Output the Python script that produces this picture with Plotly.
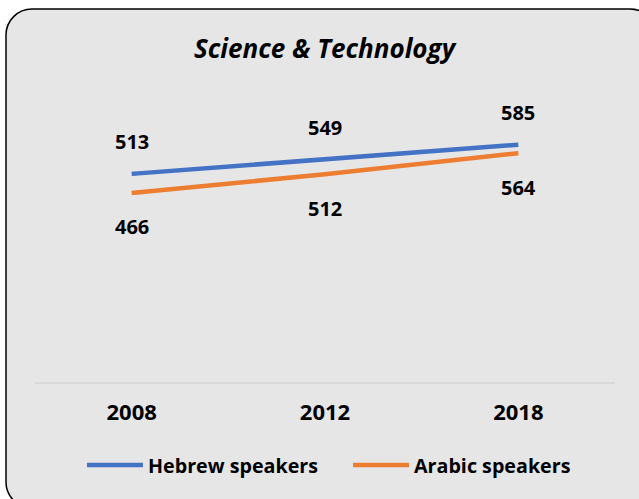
import plotly.graph_objects as go

# Data
years = ["2008", "2012", "2018"]
hebrew = [513, 549, 585]
arabic = [466, 512, 564]
series_names = ["Hebrew speakers", "Arabic speakers"]
colors = ["#4472C4", "#ED7D31"]

W, H = 639, 499
L, R, T, B = 35, 24, 98, 117
PW, PH = W - L - R, H - T - B

FONT = "Open Sans"


def px(x):
    return (x - L) / PW


def py(y):
    return (H - B - y) / PH


fig = go.Figure()
for name, vals, col in zip(series_names, [hebrew, arabic], colors):
    fig.add_trace(go.Scatter(
        x=years, y=vals, mode="lines", name=name,
        line=dict(color=col, width=4.5), showlegend=False,
        hoverinfo="skip",
    ))

# Data labels: above the upper series, below the lower one.
# On a category axis annotations are placed by category index.
annotations = []
for i, yv in enumerate(hebrew):
    annotations.append(dict(x=i, y=yv, xref="x", yref="y", text=f"<b>{yv}</b>",
                            showarrow=False, yshift=32, yanchor="middle",
                            font=dict(family=FONT, size=20, color="#000")))
for i, yv in enumerate(arabic):
    annotations.append(dict(x=i, y=yv, xref="x", yref="y", text=f"<b>{yv}</b>",
                            showarrow=False, yshift=-34, yanchor="middle",
                            font=dict(family=FONT, size=20, color="#000")))

# Title
annotations.append(dict(x=0.5, y=py(48), xref="paper", yref="paper",
                        text="<b><i>Science & Technology</i></b>", showarrow=False,
                        xanchor="center", yanchor="middle",
                        font=dict(family=FONT, size=26, color="#000")))

# Legend entries
shapes = []
leg_y = py(465)
for (x0, x1, tx), name, col in zip([(87, 143, 146), (353, 409, 412)], series_names, colors):
    shapes.append(dict(type="line", xref="paper", yref="paper",
                       x0=px(x0), x1=px(x1), y0=leg_y, y1=leg_y,
                       line=dict(color=col, width=4.5)))
    annotations.append(dict(x=px(tx), y=leg_y, xref="paper", yref="paper",
                            text=f"<b>{name}</b>", showarrow=False,
                            xanchor="left", yanchor="middle",
                            font=dict(family=FONT, size=19.7, color="#000")))

# Rounded chart frame (runs past the right and bottom page edges)
x0, x1, y0, y1 = 6, 656, 9, 508
r = 26
k = 0.5523 * r
path = (f"M {px(x0)},{py(y0 + r)} "
        f"C {px(x0)},{py(y0 + r - k)} {px(x0 + r - k)},{py(y0)} {px(x0 + r)},{py(y0)} "
        f"L {px(x1 - r)},{py(y0)} "
        f"C {px(x1 - r + k)},{py(y0)} {px(x1)},{py(y0 + r - k)} {px(x1)},{py(y0 + r)} "
        f"L {px(x1)},{py(y1 - r)} "
        f"C {px(x1)},{py(y1 - r + k)} {px(x1 - r + k)},{py(y1)} {px(x1 - r)},{py(y1)} "
        f"L {px(x0 + r)},{py(y1)} "
        f"C {px(x0 + r - k)},{py(y1)} {px(x0)},{py(y1 - r + k)} {px(x0)},{py(y1 - r)} Z")
shapes.append(dict(type="path", xref="paper", yref="paper", path=path,
                   fillcolor="#E6E6E6", line=dict(color="#000", width=1.5),
                   layer="below"))

fig.update_layout(
    width=W, height=H,
    margin=dict(l=L, r=R, t=T, b=B),
    paper_bgcolor="white",
    plot_bgcolor="rgba(0,0,0,0)",
    annotations=annotations,
    shapes=shapes,
    xaxis=dict(
        type="category", range=[-0.5, 2.5], autorange=False,
        showgrid=False, zeroline=False, showline=True, linecolor="#D9D9D9",
        linewidth=1.5, ticks="", ticklabelstandoff=10,
        tickfont=dict(family=FONT, size=22, color="#000"),
        tickprefix="<b>", ticksuffix="</b>", fixedrange=True,
    ),
    yaxis=dict(range=[0, 700], autorange=False, visible=False, fixedrange=True),
)

fig.write_html("out.html", config={"displayModeBar": False})
